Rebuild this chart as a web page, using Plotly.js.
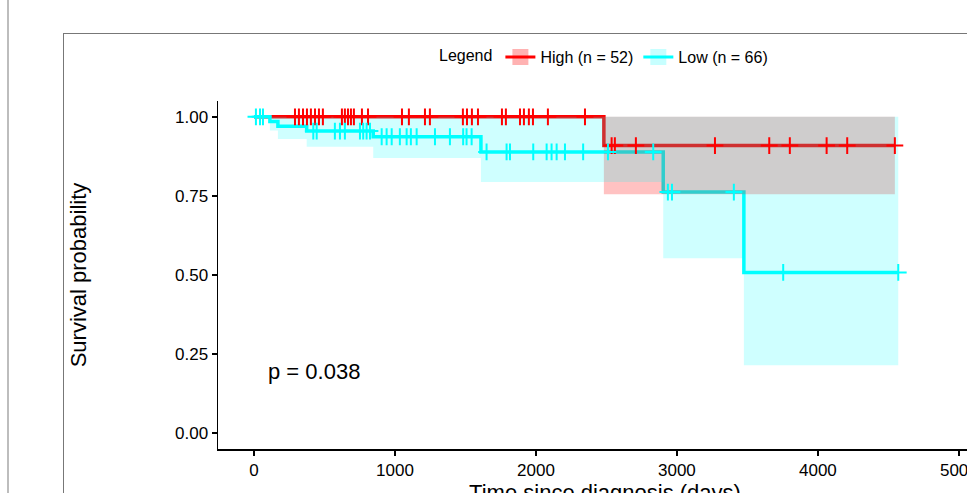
<!DOCTYPE html>
<html>
<head>
<meta charset="utf-8">
<script src="https://cdn.plot.ly/plotly-3.0.1.min.js"></script>
<style>
  html, body { margin:0; padding:0; width:967px; height:493px; overflow:hidden; background:#fff; }
  #vline { position:absolute; left:7px; top:0; width:2px; height:493px; background:#bdbdbd; }
  #frame { position:absolute; left:63px; top:33px; width:1200px; height:800px; border-left:1.5px solid #777; border-top:1.5px solid #777; }
  #chart { position:absolute; left:0; top:0; }
</style>
</head>
<body>
<div id="vline"></div>
<div id="frame"></div>
<div id="chart"></div>
<script>
// ---- Data ----
// High group (n = 52): step function (times where survival changes, last = end of follow-up)
const highStepTime  = [0, 2482, 4546];
const highStepSurv  = [1, 0.909, 0.909];
const highStepLower = [1, 0.755, 0.755];
const highStepUpper = [1, 1.0, 1.0];
const highCensorTime = [291, 319, 348, 376, 404, 433, 461, 489, 624, 645, 667, 688, 709, 766, 809,
  1050, 1099, 1213, 1248, 1482, 1511, 1546, 1589, 1759, 1787, 1887, 1915, 1950, 1979, 2085, 2348,
  2537, 2560, 2709, 3270, 3655, 3801, 4062, 4208, 4546];

// Low group (n = 66)
const lowStepTime  = [0, 113, 170, 374, 846, 1610, 2903, 3475, 4570];
const lowStepSurv  = [1, 0.985, 0.970, 0.955, 0.937, 0.889, 0.762, 0.508, 0.508];
const lowStepLower = [1, 0.957, 0.930, 0.905, 0.870, 0.794, 0.553, 0.215, 0.215];
const lowStepUpper = [1, 1.0, 1.0, 1.0, 1.0, 1.0, 1.0, 1.0, 1.0];
const lowCensorTime = [14, 43, 64, 421, 445, 574, 610, 645, 752, 775, 799, 823,
  906, 941, 977, 1035, 1083, 1113, 1154, 1284, 1390, 1484, 1508, 1544,
  1650, 1792, 1816, 1981, 2076, 2111, 2147, 2206, 2335, 2511, 2832, 2936, 2965, 3404, 3754, 4570];

const groupNames = ['High (n = 52)', 'Low (n = 66)'];
const xTickVals = [0, 1000, 2000, 3000, 4000, 5000];
const yTickVals = [0, 0.25, 0.5, 0.75, 1.0];
const pValueText = 'p = 0.038';

// ---- helpers ----
function stepAt(times, surv, t) {
  let v = surv[0];
  for (let i = 0; i < times.length; i++) { if (times[i] <= t) v = surv[i]; }
  return v;
}
function ribbon(times, lower, upper) {
  const xs = [], ys = [];
  for (let i = 0; i < times.length - 1; i++) { xs.push(times[i], times[i + 1]); ys.push(upper[i], upper[i]); }
  for (let i = times.length - 2; i >= 0; i--) { xs.push(times[i + 1], times[i]); ys.push(lower[i], lower[i]); }
  return { xs, ys };
}

const RED = '#FF0000', CYAN = '#00FFFF';
const font = 'Liberation Sans, Arial, sans-serif';
const hiRib = ribbon(highStepTime, highStepLower, highStepUpper);
const loRib = ribbon(lowStepTime, lowStepLower, lowStepUpper);

const traces = [
  // survival curves (bottom layer)
  { x: highStepTime, y: highStepSurv, mode: 'lines', line: { color: RED, width: 3.5, shape: 'hv' }, showlegend: false, hoverinfo: 'skip' },
  { x: lowStepTime, y: lowStepSurv, mode: 'lines', line: { color: CYAN, width: 3.5, shape: 'hv' }, showlegend: false, hoverinfo: 'skip' },
  // confidence ribbons (overlay layer, drawn over the curves)
  { x: hiRib.xs, y: hiRib.ys, xaxis: 'x2', yaxis: 'y2', mode: 'lines', fill: 'toself', fillcolor: 'rgba(255,0,0,0.24)', line: { width: 0 }, showlegend: false, hoverinfo: 'skip' },
  { x: loRib.xs, y: loRib.ys, xaxis: 'x2', yaxis: 'y2', mode: 'lines', fill: 'toself', fillcolor: 'rgba(0,255,255,0.19)', line: { width: 0 }, showlegend: false, hoverinfo: 'skip' },
  // censor marks (top layer)
  { x: highCensorTime, y: highCensorTime.map(t => stepAt(highStepTime, highStepSurv, t)), xaxis: 'x3', yaxis: 'y3', mode: 'markers',
    marker: { symbol: 'cross-thin', size: 12, line: { color: RED, width: 2 } }, showlegend: false, hoverinfo: 'skip' },
  { x: lowCensorTime, y: lowCensorTime.map(t => stepAt(lowStepTime, lowStepSurv, t)), xaxis: 'x3', yaxis: 'y3', mode: 'markers',
    marker: { symbol: 'cross-thin', size: 12, line: { color: CYAN, width: 2 } }, showlegend: false, hoverinfo: 'skip' },
  // legend entries
  { x: [null], y: [null], name: groupNames[0], mode: 'lines+markers', line: { color: RED, width: 3 },
    marker: { symbol: 'square', size: 16, color: 'rgba(255,0,0,0.3)', line: { width: 0 } } },
  { x: [null], y: [null], name: groupNames[1], mode: 'lines+markers', line: { color: CYAN, width: 3 },
    marker: { symbol: 'square', size: 16, color: 'rgba(0,255,255,0.22)', line: { width: 0 } } }
];

const xRange = [-255, 5235], yRange = [-0.05, 1.05];
const hidden = (r) => ({ range: r, visible: false, showgrid: false, zeroline: false, fixedrange: true });

const layout = {
  width: 1100, height: 560,
  margin: { l: 218, r: 108, t: 101, b: 111 },
  paper_bgcolor: 'rgba(0,0,0,0)', plot_bgcolor: 'rgba(0,0,0,0)',
  font: { family: font, color: '#000' },
  showlegend: true,
  legend: {
    orientation: 'h', x: 0.5, xanchor: 'center', y: 1.126, yanchor: 'middle',
    font: { family: font, size: 16, color: '#000' },
    title: { text: 'Legend', side: 'left', font: { family: font, size: 16, color: '#000' } },
    bgcolor: 'rgba(0,0,0,0)'
  },
  xaxis: {
    range: xRange, tickvals: xTickVals, ticktext: xTickVals.map(String),
    showgrid: false, zeroline: false, showline: true, linecolor: '#000', linewidth: 1.5,
    ticks: 'outside', ticklen: 5, tickwidth: 1.5, tickcolor: '#000',
    tickfont: { family: font, size: 17, color: '#000' }, automargin: true,
    title: { text: 'Time since diagnosis (days)', font: { family: font, size: 22, color: '#000' }, standoff: 1 }
  },
  yaxis: {
    range: yRange, tickvals: yTickVals, ticktext: yTickVals.map(v => v.toFixed(2)),
    showgrid: false, zeroline: false, showline: true, linecolor: '#000', linewidth: 1.5,
    ticks: 'outside', ticklen: 5, tickwidth: 1.5, tickcolor: '#000',
    tickfont: { family: font, size: 17, color: '#000' },
    title: { text: 'Survival probability', font: { family: font, size: 22, color: '#000' }, standoff: 82 }
  },
  xaxis2: Object.assign(hidden(xRange), { overlaying: 'x' }),
  yaxis2: Object.assign(hidden(yRange), { overlaying: 'y' }),
  xaxis3: Object.assign(hidden(xRange), { overlaying: 'x' }),
  yaxis3: Object.assign(hidden(yRange), { overlaying: 'y' }),
  annotations: [
    { x: 88, y: 0.196, xref: 'x', yref: 'y', text: pValueText, showarrow: false, xanchor: 'left', yanchor: 'middle',
      font: { family: font, size: 22, color: '#000' } }
  ]
};

Plotly.newPlot('chart', traces, layout, { displayModeBar: false, staticPlot: true });
</script>
</body>
</html>
